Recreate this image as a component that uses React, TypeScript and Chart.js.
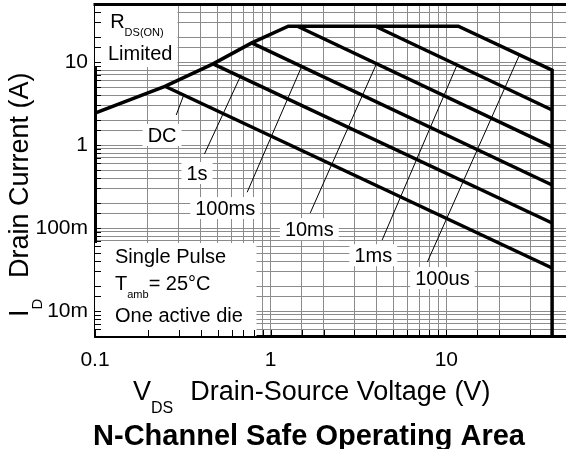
import React, { useEffect, useRef } from 'react';
import { Chart, registerables } from 'chart.js';

Chart.register(...registerables);

const FONT = '"Liberation Sans", Arial, Helvetica, sans-serif';

// Axis ranges
const X_MIN = 0.1;
const X_MAX = 48;
const Y_MIN = 0.005;
const Y_MAX = 50;

// Tick labels
const xTickValues = [0.1, 1, 10];
const xTickLabels = ['0.1', '1', '10'];
const yTickValues = [0.01, 0.1, 1, 10];
const yTickLabels = ['10m', '100m', '1', '10'];

// SOA outer limit: RDS(on) limited, current limit, 100us pulse, voltage limit
const limitX = [0.1, 0.25, 0.47, 0.78, 1.26, 11.7, 40, 40];
const limitY = [2.43, 5.1, 9.5, 17, 27, 27, 8.0, 0.005];

// Pulse curves (start on limit line, end at 40 V)
const dcX = [0.25, 40];
const dcY = [5.1, 0.033];
const s1X = [0.47, 40];
const s1Y = [9.5, 0.115];
const ms100X = [0.78, 40];
const ms100Y = [17, 0.33];
const ms10X = [1.42, 40];
const ms10Y = [27, 0.95];
const ms1X = [3.94, 40];
const ms1Y = [27, 2.64];

// Curve labels and their leader lines
const curveLabels = ['DC', '1s', '100ms', '10ms', '1ms', '100us'];
const labelX = [0.241, 0.381, 0.551, 1.66, 3.84, 9.5];
const labelY = [1.32, 0.46, 0.174, 0.097, 0.047, 0.025];
const leaderStartX = [0.29, 0.42, 0.735, 1.68, 4.31, 7.8];
const leaderStartY = [2.3, 0.78, 0.27, 0.152, 0.0716, 0.039];
const leaderEndX = [0.32, 0.67, 1.5, 4.0, 11.5, 26];
const leaderEndY = [4.0, 6.6, 8.8, 9.5, 9.2, 12];

// Corner note boxes (data-space rectangles)
const boxX0 = [X_MIN, X_MIN];
const boxX1 = [0.295, 0.83];
const boxY0 = [8.7, Y_MIN];
const boxY1 = [Y_MAX, 0.066];

const toPts = (xs: number[], ys: number[]) => xs.map((x, i) => ({ x, y: ys[i] }));

function labelFor(v: number, vals: number[], labels: string[]) {
  for (let i = 0; i < vals.length; i++) {
    if (Math.abs(v / vals[i] - 1) < 1e-6) return labels[i];
  }
  return '';
}

function drawSub(
  ctx: CanvasRenderingContext2D,
  x: number,
  y: number,
  main: string,
  sub: string,
  rest: string,
  mainSize: number,
  subSize: number,
  subDy: number
) {
  ctx.textAlign = 'left';
  ctx.textBaseline = 'alphabetic';
  ctx.font = `${mainSize}px ${FONT}`;
  ctx.fillText(main, x, y);
  let cx = x + ctx.measureText(main).width;
  ctx.font = `${subSize}px ${FONT}`;
  ctx.fillText(sub, cx, y + subDy);
  cx += ctx.measureText(sub).width;
  if (rest) {
    ctx.font = `${mainSize}px ${FONT}`;
    ctx.fillText(rest, cx, y);
  }
  return cx;
}

const zeroPad = (s: any) => {
  s.paddingTop = 0;
  s.paddingBottom = 0;
  s.paddingLeft = 0;
  s.paddingRight = 0;
};

const overlayPlugin = {
  id: 'overlay',
  beforeDatasetsDraw(chart: any) {
    const { ctx, chartArea: a, scales } = chart;
    const sx = scales.x;
    const sy = scales.y;
    const X = (v: number) => sx.getPixelForValue(v);
    const Y = (v: number) => sy.getPixelForValue(v);
    ctx.save();
    ctx.beginPath();
    ctx.rect(a.left, a.top, a.right - a.left, a.bottom - a.top);
    ctx.clip();

    // white note boxes
    ctx.fillStyle = '#fff';
    for (let i = 0; i < boxX0.length; i++) {
      const x0 = X(boxX0[i]);
      const x1 = X(boxX1[i]);
      const y0 = Y(boxY1[i]);
      const y1 = Y(boxY0[i]);
      ctx.fillRect(x0, y0, x1 - x0, y1 - y0);
    }

    // curve labels with white background
    ctx.font = `20px ${FONT}`;
    ctx.textAlign = 'center';
    ctx.textBaseline = 'middle';
    curveLabels.forEach((t, i) => {
      const x = X(labelX[i]);
      const y = Y(labelY[i]);
      const w = ctx.measureText(t).width;
      ctx.fillStyle = '#fff';
      ctx.fillRect(x - w / 2 - 5, y - 11, w + 10, 22);
      ctx.fillStyle = '#000';
      ctx.fillText(t, x, y + 1);
    });

    // corner notes
    ctx.fillStyle = '#000';
    drawSub(ctx, X(0.122), Y(25.7), 'R', 'DS(ON)', '', 20, 11, 8);
    ctx.font = `20px ${FONT}`;
    ctx.textAlign = 'left';
    ctx.textBaseline = 'alphabetic';
    ctx.fillText('Limited', X(0.1185), Y(10.6));
    ctx.fillText('Single Pulse', X(0.13), Y(0.0379));
    drawSub(ctx, X(0.13), Y(0.0179), 'T', 'amb', '= 25°C', 20, 11, 8);
    ctx.font = `20px ${FONT}`;
    ctx.fillText('One active die', X(0.13), Y(0.00736));

    // inside tick marks
    ctx.strokeStyle = '#000';
    ctx.lineWidth = 1;
    ctx.beginPath();
    for (const t of sx.ticks) {
      const p = Math.round(X(t.value)) + 0.5;
      ctx.moveTo(p, a.bottom);
      ctx.lineTo(p, a.bottom - 6);
    }
    for (const t of sy.ticks) {
      const p = Math.round(Y(t.value)) + 0.5;
      ctx.moveTo(a.left, p);
      ctx.lineTo(a.left + 6, p);
    }
    ctx.stroke();
    ctx.restore();

    // top border
    ctx.save();
    ctx.strokeStyle = '#000';
    ctx.lineWidth = 3;
    ctx.beginPath();
    ctx.moveTo(a.left - 1.5, a.top + 0.5);
    ctx.lineTo(a.right, a.top + 0.5);
    ctx.stroke();
    ctx.restore();
  },
  afterDraw(chart: any) {
    const { ctx } = chart;
    ctx.save();
    ctx.fillStyle = '#000';
    // x axis title
    const endX = drawSub(ctx, 133, 400, 'V', 'DS', '', 27, 16, 13);
    ctx.font = `27px ${FONT}`;
    ctx.fillText('Drain-Source Voltage (V)', endX + 17, 400);
    // y axis title (rotated)
    ctx.save();
    ctx.translate(28, 317);
    ctx.rotate(-Math.PI / 2);
    drawSub(ctx, 0, 0, 'I', 'D', '', 27, 15, 14);
    ctx.font = `27px ${FONT}`;
    ctx.fillText('Drain Current (A)', 39, 0);
    ctx.restore();
    // chart title
    ctx.font = `bold 29px ${FONT}`;
    ctx.textAlign = 'center';
    ctx.textBaseline = 'alphabetic';
    ctx.fillText('N-Channel Safe Operating Area', 309, 445);
    ctx.restore();
  },
};

export default function App() {
  const ref = useRef<HTMLCanvasElement | null>(null);

  useEffect(() => {
    if (!ref.current) return;
    const thick = (xs: number[], ys: number[]) => ({
      data: toPts(xs, ys),
      borderColor: '#000',
      borderWidth: 3.5,
      pointRadius: 0,
      fill: false,
      tension: 0,
      borderJoinStyle: 'miter' as const,
    });
    const thin = (i: number) => ({
      data: [
        { x: leaderStartX[i], y: leaderStartY[i] },
        { x: leaderEndX[i], y: leaderEndY[i] },
      ],
      borderColor: '#000',
      borderWidth: 1,
      pointRadius: 0,
      fill: false,
    });
    const chart = new Chart(ref.current, {
      type: 'line',
      data: {
        datasets: [
          thick(limitX, limitY),
          thick(dcX, dcY),
          thick(s1X, s1Y),
          thick(ms100X, ms100Y),
          thick(ms10X, ms10Y),
          thick(ms1X, ms1Y),
          ...curveLabels.map((_, i) => thin(i)),
        ],
      },
      options: {
        animation: false,
        responsive: false,
        events: [],
        layout: { padding: { top: 4, right: 0, left: 0, bottom: 0 } },
        plugins: { legend: { display: false }, tooltip: { enabled: false }, title: { display: false } },
        scales: {
          x: {
            type: 'logarithmic',
            min: X_MIN,
            max: X_MAX,
            grid: { color: '#8c8c8c', lineWidth: 1, drawTicks: false },
            border: { color: '#000', width: 3 },
            ticks: {
              autoSkip: false,
              maxRotation: 0,
              padding: 12,
              color: '#000',
              font: { family: FONT, size: 21 },
              callback: (v: any) => labelFor(Number(v), xTickValues, xTickLabels),
            },
            afterFit: (s: any) => {
              s.height = 113;
              zeroPad(s);
            },
          },
          y: {
            type: 'logarithmic',
            min: Y_MIN,
            max: Y_MAX,
            grid: { color: '#8c8c8c', lineWidth: 1, drawTicks: false },
            border: { color: '#000', width: 3 },
            ticks: {
              autoSkip: false,
              padding: 7,
              color: '#000',
              font: { family: FONT, size: 21 },
              callback: (v: any) => labelFor(Number(v), yTickValues, yTickLabels),
            },
            afterFit: (s: any) => {
              s.width = 95;
              zeroPad(s);
            },
          },
        },
      },
      plugins: [overlayPlugin],
    });
    return () => chart.destroy();
  }, []);

  return (
    <div style={{ position: 'fixed', left: 0, top: 0, width: 566, height: 449, background: '#fff' }}>
      <canvas ref={ref} width={566} height={449} style={{ display: 'block' }} />
    </div>
  );
}
